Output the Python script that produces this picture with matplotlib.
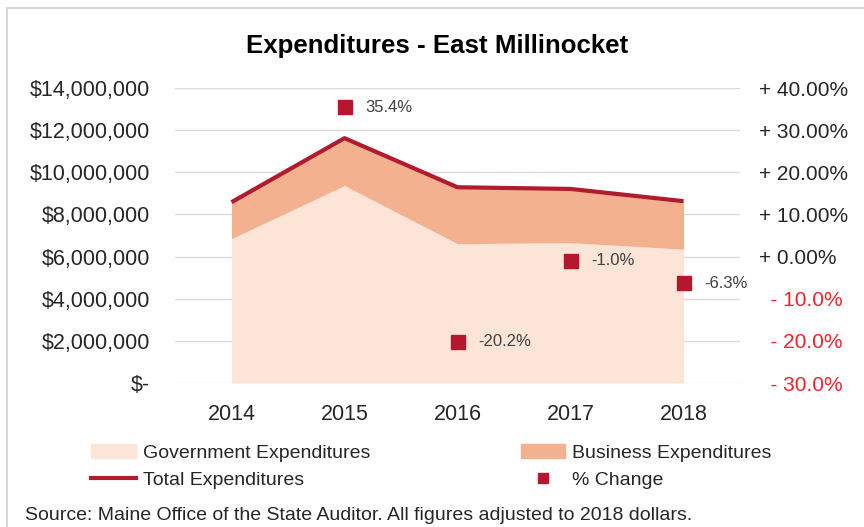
import matplotlib.pyplot as plt
import matplotlib.patches as mpatches
from matplotlib.lines import Line2D
from matplotlib.ticker import FuncFormatter
import numpy as np

plt.rcParams['font.family'] = ['Liberation Sans', 'DejaVu Sans']

years = ['2014', '2015', '2016', '2017', '2018']
government = [6.85e6, 9.37e6, 6.61e6, 6.66e6, 6.35e6]
business = [1.73e6, 2.25e6, 2.68e6, 2.55e6, 2.28e6]
pct_change = [None, 35.4, -20.2, -1.0, -6.3]
pct_labels = ['', '35.4%', '-20.2%', '-1.0%', '-6.3%']
left_ticks = [0, 2e6, 4e6, 6e6, 8e6, 10e6, 12e6, 14e6]
right_ticks = [-30, -20, -10, 0, 10, 20, 30, 40]

gov_color = '#FCE4D6'
bus_color = '#F4B190'
line_color = '#B01C2E'
mark_color = '#B5172F'
neg_color = '#F2222B'
text_color = '#262626'
grid_color = '#D9D9D9'

W, H = 864, 527
fig = plt.figure(figsize=(W / 100, H / 100), dpi=100)

# light frame around the whole chart
fig.patches.append(mpatches.Rectangle((7 / W, -0.1), 1.2, 1 - 8 / H + 0.1,
                                      transform=fig.transFigure, fill=False,
                                      edgecolor='#D0D0D0', linewidth=1.2))

ax = fig.add_axes([175 / W, 1 - 383 / H, (740 - 175) / W, (383 - 88) / H])
x = np.arange(len(years))
total = np.array(government) + np.array(business)

ax.fill_between(x, 0, government, color=gov_color, linewidth=0, zorder=2)
ax.fill_between(x, government, total, color=bus_color, linewidth=0, zorder=2)
ax.plot(x, total, color=line_color, linewidth=3, zorder=3, solid_capstyle='butt')

ax.set_xlim(-0.5, 4.5)
ax.set_ylim(0, 14e6)
ax.set_yticks(left_ticks)
ax.yaxis.set_major_formatter(FuncFormatter(lambda v, p: '$-' if v == 0 else '${:,.0f}'.format(v)))
ax.set_xticks(x)
ax.set_xticklabels(years)
ax.grid(axis='y', color=grid_color, linewidth=1, zorder=0)
ax.set_axisbelow(True)
for s in ax.spines.values():
    s.set_visible(False)
ax.tick_params(length=0, labelsize=15.5, colors=text_color)
ax.tick_params(axis='y', pad=18)
ax.tick_params(axis='x', pad=15)

ax2 = ax.twinx()
ax2.set_ylim(-30, 40)
ax2.set_yticks(right_ticks)
ax2.set_yticklabels(['+ {:.2f}%'.format(t) if t >= 0 else '  - {:.1f}%'.format(-t) for t in right_ticks])
for s in ax2.spines.values():
    s.set_visible(False)
ax2.tick_params(length=0, labelsize=15, pad=14)
for t, lab in zip(right_ticks, ax2.get_yticklabels()):
    lab.set_color(neg_color if t < 0 else text_color)

px = [i for i, v in enumerate(pct_change) if v is not None]
py = [v for v in pct_change if v is not None]
ax2.plot(px, py, linestyle='none', marker='s', markersize=10, color=mark_color, zorder=4)
for i, v in zip(px, py):
    ax2.annotate(pct_labels[i], (i, v), xytext=(15, 0), textcoords='offset points',
                 va='center', ha='left', fontsize=12, color='#404040')

fig.text(437 / W, 1 - 46 / H, 'Expenditures - East Millinocket', ha='center', va='center',
         fontsize=18.6, fontweight='bold', color='black')

handles = [mpatches.Patch(color=gov_color),
           Line2D([], [], color=line_color, linewidth=3),
           mpatches.Patch(color=bus_color),
           Line2D([], [], color=mark_color, marker='s', markersize=7, linestyle='none')]
labels = ['Government Expenditures', 'Total Expenditures', 'Business Expenditures', '% Change']
fig.legend(handles, labels, ncol=2, loc='upper left', bbox_to_anchor=(91 / W, 1 - 444 / H),
           frameon=False, borderpad=0, borderaxespad=0, fontsize=14, handlelength=2.3,
           handletextpad=0.35, columnspacing=7.75, labelspacing=0.5, labelcolor=text_color)

fig.text(25 / W, 1 - 516 / H, 'Source: Maine Office of the State Auditor. All figures adjusted to 2018 dollars.',
         ha='left', va='center', fontsize=14, color=text_color)

fig.savefig('out.png', dpi=100)
